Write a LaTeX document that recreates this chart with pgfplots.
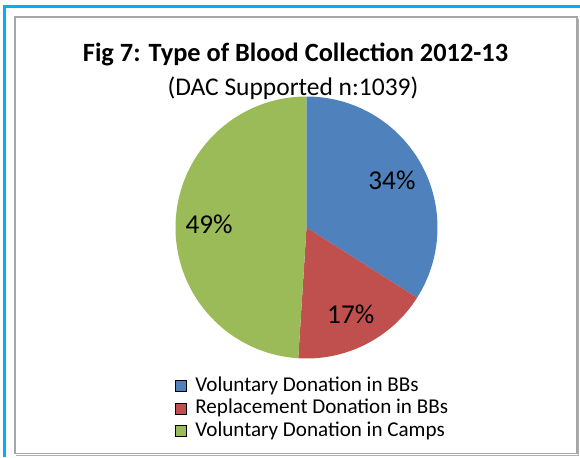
\documentclass[border=0pt]{standalone}
\usepackage{fontspec}
\setmainfont{Carlito}
\usepackage{pgfplots}
\usepackage{pgfplotstable}
\pgfplotsset{compat=1.18}

\definecolor{pieblue}{HTML}{4F81BD}
\definecolor{piered}{HTML}{C0504D}
\definecolor{piegreen}{HTML}{9BBB59}
\definecolor{framecyan}{HTML}{00B0F0}
\definecolor{framegray}{HTML}{A6A6A6}

\pgfplotsset{piekey/.style={legend image code/.code={\fill[##1] (0cm,-0.11cm) rectangle (0.22cm,0.11cm);}}}

% share of collections (%), in clockwise order from 12 o'clock
\pgfplotstableread{
share colour
34 pieblue
17 piered
49 piegreen
}\piedata

\begin{document}
\begin{tikzpicture}
\begin{axis}[
  scale only axis,
  width=11.6cm, height=9.14cm,
  xmin=0, xmax=580, ymin=0, ymax=457, y dir=reverse,
  hide axis, clip=false,
  legend style={at={(axis cs:174.5,375)}, anchor=north west, draw=none, fill=none,
    font=\fontsize{12}{13}\selectfont, row sep=0.8pt, inner sep=0pt,
    nodes={inner xsep=2pt, inner ysep=0pt, text height=9pt, text depth=3pt},
    /tikz/every odd column/.append style={column sep=3pt}},
  legend cell align=left,
]
  % outer frames
  \draw[framecyan, line width=1.2pt] (axis cs:4.5,457) -- (axis cs:4.5,6.5) -- (axis cs:580,6.5);
  \draw[gray!60, line width=0.7pt] (axis cs:16.5,455.5) -- (axis cs:578.8,455.5) -- (axis cs:578.8,18.5);
  \draw[framegray, line width=0.8pt] (axis cs:15,17) rectangle (axis cs:577,453.5);

  % titles
  \node[font=\fontsize{15}{18}\selectfont\bfseries] at (axis cs:295.5,54) {Fig 7: Type of Blood Collection 2012-13};
  \node[font=\fontsize{14.5}{17}\selectfont] at (axis cs:293,88) {(DAC Supported n:1039)};

  % pie slices from the table
  \def\cumangle{90}
  \pgfplotsforeachungrouped \i in {0,1,2}{%
    \pgfplotstablegetelem{\i}{share}\of\piedata \let\val\pgfplotsretval
    \pgfplotstablegetelem{\i}{colour}\of\piedata \let\col\pgfplotsretval
    \pgfmathsetmacro\endangle{\cumangle-3.6*\val}
    \pgfmathsetmacro\midangle{(\cumangle+\endangle)/2}
    \edef\pieslice{%
      \noexpand\fill[\col] (axis cs:306.5,227.5) -- ++(\cumangle:2.62cm)
        arc[start angle=\cumangle, end angle=\endangle, radius=2.62cm] -- cycle;
      \noexpand\path (axis cs:306.5,227.5) ++(\midangle:1.95cm)
        node[font=\noexpand\fontsize{15.5}{18}\noexpand\selectfont] {\val\noexpand\%};}
    \pieslice
    \let\cumangle\endangle
  }

  \addlegendimage{fill=pieblue, piekey}
  \addlegendentry{Voluntary Donation in BBs}
  \addlegendimage{fill=piered, piekey}
  \addlegendentry{Replacement Donation in BBs}
  \addlegendimage{fill=piegreen, piekey}
  \addlegendentry{Voluntary Donation in Camps}
\end{axis}
\pgfresetboundingbox
\path (0,0) rectangle (11.6cm,9.14cm);
\end{tikzpicture}
\end{document}
